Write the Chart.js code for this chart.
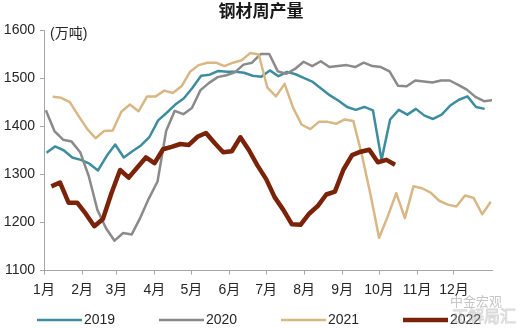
<!DOCTYPE html>
<html>
<head>
<meta charset="utf-8">
<script src="https://cdn.jsdelivr.net/npm/chart.js@4"></script>
<style>
  html, body { margin: 0; padding: 0; background: #fff; }
</style>
</head>
<body>
<canvas id="steel-weekly-output" width="522" height="328"></canvas>
<script>
// month labels and the day of year where each month starts
const monthLabels = ["1月", "2月", "3月", "4月", "5月", "6月", "7月", "8月", "9月", "10月", "11月", "12月"];
const monthStartDays = [0, 31, 59, 90, 120, 151, 181, 212, 243, 273, 304, 334];

const seriesNames = ["2019", "2020", "2021", "2022"];
// day of year of each series' first weekly reading
const firstWeekDay = [2, 1.5, 7, 6];

// weekly output, 万吨
const output2019 = [1345, 1358, 1350, 1335, 1330, 1322, 1308, 1338, 1362, 1335, 1348, 1360, 1378, 1412,
  1428, 1445, 1458, 1480, 1505, 1507, 1515, 1513, 1513, 1511, 1505, 1503, 1516, 1504, 1513, 1508,
  1500, 1492, 1478, 1464, 1453, 1440, 1434, 1440, 1433, 1330, 1414, 1434, 1424, 1436, 1422, 1415,
  1424, 1443, 1455, 1462, 1440, 1436];
const output2020 = [1433, 1390, 1372, 1368, 1346, 1296, 1226, 1188, 1162, 1178, 1175, 1210, 1250, 1285,
  1390, 1432, 1425, 1438, 1475, 1490, 1502, 1506, 1512, 1528, 1532, 1550, 1550, 1514, 1509, 1519,
  1534, 1525, 1535, 1523, 1525, 1527, 1523, 1532, 1525, 1523, 1514, 1484, 1483, 1495, 1493, 1491,
  1495, 1495, 1486, 1476, 1461, 1452, 1454];
const output2021 = [1461, 1459, 1450, 1422, 1395, 1375, 1390, 1391, 1430, 1445, 1431, 1462, 1462, 1474,
  1469, 1483, 1513, 1527, 1532, 1532, 1525, 1532, 1537, 1552, 1549, 1480, 1462, 1488, 1438, 1403,
  1394, 1409, 1409, 1405, 1414, 1411, 1340, 1258, 1168, 1212, 1261, 1209, 1275, 1271, 1262, 1245,
  1237, 1233, 1256, 1251, 1217, 1243];
const output2022 = [1275, 1283, 1241, 1241, 1218, 1192, 1207, 1261, 1309, 1293, 1314, 1335, 1323, 1352,
  1357, 1363, 1361, 1378, 1386, 1365, 1346, 1348, 1377, 1350, 1318, 1290, 1252, 1226, 1196, 1195,
  1218, 1234, 1258, 1264, 1310, 1340, 1347, 1351, 1325, 1330, 1320];

const yTicks = [1100, 1200, 1300, 1400, 1500, 1600];

const seriesValues = [output2019, output2020, output2021, output2022];
const seriesColors = ["#3d8d9f", "#8a8a8a", "#d8b784", "#7a2308"];
const seriesWidths = [2.5, 2.5, 2.5, 4.5];
const seriesOrder = [3, 2, 1, 0];

const FONT = "'Liberation Sans', Arial, 'Noto Sans CJK SC', sans-serif";
Chart.defaults.font.family = FONT;
Chart.defaults.color = "#262626";

const datasets = seriesNames.map((name, i) => ({
  label: name,
  data: seriesValues[i].map((v, w) => ({ x: firstWeekDay[i] + w * 7, y: v })),
  borderColor: seriesColors[i],
  backgroundColor: seriesColors[i],
  borderWidth: seriesWidths[i],
  pointRadius: 0,
  tension: 0,
  borderJoinStyle: "round",
  order: seriesOrder[i],
}));

// title, unit, legend and watermark drawn on the canvas
const decorations = {
  id: "decorations",
  afterDraw(chart) {
    const ctx = chart.ctx;
    const area = chart.chartArea;
    ctx.save();
    ctx.fillStyle = "#1a1a1a";
    ctx.font = "bold 17px " + FONT;
    ctx.textAlign = "center";
    ctx.textBaseline = "middle";
    ctx.fillText("钢材周产量", 261, 12.5);

    ctx.fillStyle = "#262626";
    ctx.font = "14px " + FONT;
    ctx.textAlign = "left";
    ctx.fillText("(万吨)", area.left + 6, 34);

    chart.data.datasets.forEach((ds, i) => {
      const x0 = 37 + i * 122;
      const y = 320;
      ctx.strokeStyle = ds.borderColor;
      ctx.lineWidth = ds.borderWidth;
      ctx.beginPath();
      ctx.moveTo(x0, y);
      ctx.lineTo(x0 + 45, y);
      ctx.stroke();
      ctx.fillStyle = "#262626";
      ctx.font = "14px " + FONT;
      ctx.fillText(ds.label, x0 + 47, y + 0.5);
    });

    ctx.fillStyle = "rgba(140,140,140,0.5)";
    ctx.font = "13px " + FONT;
    ctx.fillText("中金宏观", 450, 302);
    ctx.strokeStyle = "rgba(170,170,170,0.45)";
    ctx.lineWidth = 1;
    ctx.font = "16px " + FONT;
    ctx.strokeText("正解局汇", 452, 318);
    ctx.restore();
  },
};

new Chart("steel-weekly-output", {
  type: "line",
  data: { datasets: datasets },
  plugins: [decorations],
  options: {
    responsive: false,
    animation: false,
    layout: { padding: { top: 30, right: 30, left: 0, bottom: 0 } },
    plugins: {
      legend: { display: false },
      title: { display: false },
      tooltip: { enabled: false },
    },
    scales: {
      x: {
        type: "linear",
        min: 0,
        max: 365,
        afterBuildTicks: (axis) => {
          axis.ticks = monthStartDays.map((d) => ({ value: d }));
        },
        afterFit: (axis) => { axis.height = 57.5; },
        ticks: {
          autoSkip: false,
          maxRotation: 0,
          padding: 7,
          font: { size: 14 },
          callback: (v, i) => monthLabels[i],
        },
        grid: { drawOnChartArea: false, tickLength: 4, color: "#a6a6a6" },
        border: { color: "#a6a6a6", width: 1 },
      },
      y: {
        min: yTicks[0],
        max: yTicks[yTicks.length - 1],
        afterBuildTicks: (axis) => {
          axis.ticks = yTicks.map((v) => ({ value: v }));
        },
        afterFit: (axis) => { axis.width = 44; },
        ticks: {
          padding: 5,
          font: { size: 14 },
          callback: (v) => String(v),
        },
        grid: { drawOnChartArea: false, tickLength: 4, color: "#a6a6a6" },
        border: { color: "#a6a6a6", width: 1 },
      },
    },
  },
});
</script>
</body>
</html>
